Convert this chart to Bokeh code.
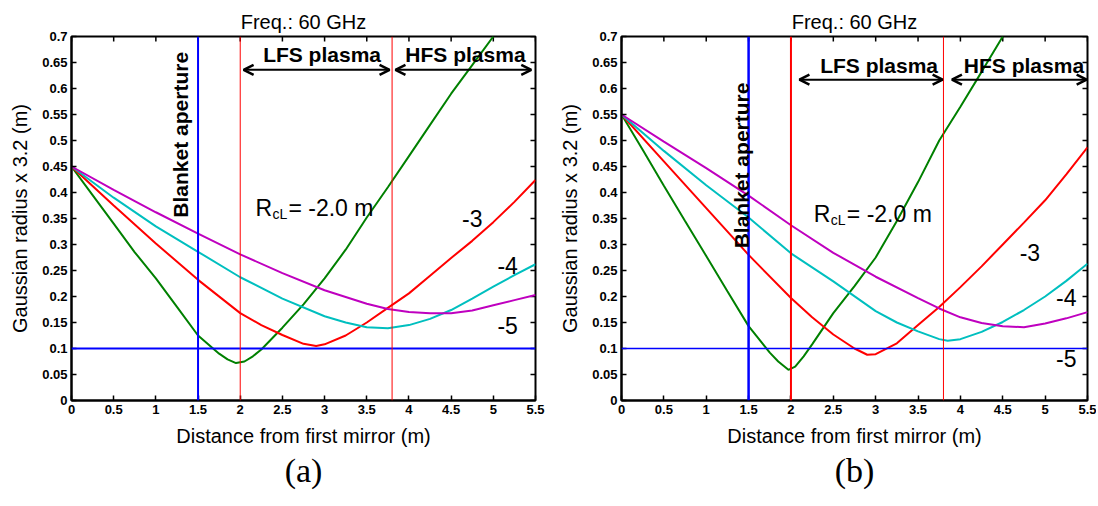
import math
from bokeh.plotting import figure
from bokeh.layouts import row
from bokeh.models import Range1d, Span, Arrow, OpenHead, Label, FixedTicker, Title
from bokeh.embed import file_html
from bokeh.resources import INLINE

# ---------------- data ----------------
x_ticks = [0, 0.5, 1, 1.5, 2, 2.5, 3, 3.5, 4, 4.5, 5, 5.5]
x_tick_labels = ["0", "0.5", "1", "1.5", "2", "2.5", "3", "3.5", "4", "4.5", "5", "5.5"]
y_ticks = [0, 0.05, 0.1, 0.15, 0.2, 0.25, 0.3, 0.35, 0.4, 0.45, 0.5, 0.55, 0.6, 0.65, 0.7]
y_tick_labels = ["0", "0.05", "0.1", "0.15", "0.2", "0.25", "0.3", "0.35", "0.4", "0.45",
                 "0.5", "0.55", "0.6", "0.65", "0.7"]

curve_labels = ["-3", "-4", "-5"]          # R_cL values written beside curves
rcl_main = "= -2.0 m"                       # green curve R_cL

# panel (a) : Gaussian radius x 3.2 (m) vs distance (m)
a_green_x = [0, 0.25, 0.5, 0.75, 1.0, 1.25, 1.5, 1.75, 1.85, 1.95, 2.05, 2.15, 2.25, 2.5,
             2.75, 3.0, 3.25, 3.5, 3.75, 4.0, 4.25, 4.5, 4.75, 5.0]
a_green_y = [0.45, 0.395, 0.34, 0.285, 0.235, 0.18, 0.125, 0.09, 0.079, 0.072, 0.075, 0.085,
             0.098, 0.14, 0.185, 0.235, 0.29, 0.352, 0.41, 0.47, 0.53, 0.59, 0.645, 0.70]
a_red_x = [0, 0.5, 1.0, 1.5, 2.0, 2.25, 2.5, 2.75, 2.9, 3.0, 3.25, 3.5, 3.75, 4.0, 4.25, 4.5,
           4.75, 5.0, 5.25, 5.5]
a_red_y = [0.45, 0.375, 0.302, 0.232, 0.168, 0.145, 0.126, 0.109, 0.105, 0.108, 0.125, 0.15,
           0.178, 0.206, 0.24, 0.274, 0.307, 0.343, 0.382, 0.424]
a_cyan_x = [0, 0.5, 1.0, 1.5, 2.0, 2.5, 3.0, 3.25, 3.5, 3.75, 4.0, 4.25, 4.5, 4.75, 5.0, 5.25, 5.5]
a_cyan_y = [0.45, 0.39, 0.335, 0.286, 0.237, 0.196, 0.162, 0.15, 0.141, 0.139, 0.145, 0.157,
            0.174, 0.196, 0.219, 0.241, 0.262]
a_mag_x = [0, 0.5, 1.0, 1.5, 2.0, 2.5, 3.0, 3.5, 3.75, 4.0, 4.25, 4.5, 4.75, 5.0, 5.25, 5.5]
a_mag_y = [0.45, 0.405, 0.362, 0.321, 0.281, 0.245, 0.212, 0.186, 0.176, 0.17, 0.168, 0.168,
           0.173, 0.183, 0.193, 0.203]

# panel (b)
b_green_x = [0, 0.25, 0.5, 0.75, 1.0, 1.25, 1.5, 1.75, 1.85, 1.97, 2.05, 2.15, 2.25, 2.5,
             2.75, 3.0, 3.25, 3.5, 3.75, 4.0, 4.25, 4.5]
b_green_y = [0.55, 0.482, 0.413, 0.345, 0.278, 0.21, 0.143, 0.092, 0.075, 0.059, 0.065, 0.085,
             0.108, 0.168, 0.22, 0.275, 0.345, 0.42, 0.5, 0.565, 0.632, 0.70]
b_red_x = [0, 0.5, 1.0, 1.5, 2.0, 2.25, 2.5, 2.75, 2.9, 3.0, 3.25, 3.5, 3.75, 4.0, 4.25, 4.5,
           4.75, 5.0, 5.25, 5.5]
b_red_y = [0.55, 0.46, 0.37, 0.28, 0.197, 0.16, 0.127, 0.1, 0.088, 0.089, 0.11, 0.145, 0.18,
           0.218, 0.258, 0.3, 0.342, 0.385, 0.435, 0.487]
b_cyan_x = [0, 0.5, 1.0, 1.5, 2.0, 2.5, 3.0, 3.25, 3.5, 3.75, 3.85, 4.0, 4.25, 4.5, 4.75, 5.0,
            5.25, 5.5]
b_cyan_y = [0.55, 0.48, 0.414, 0.352, 0.283, 0.229, 0.172, 0.15, 0.133, 0.118, 0.115, 0.118,
            0.132, 0.151, 0.174, 0.2, 0.23, 0.263]
b_mag_x = [0, 0.5, 1.0, 1.5, 2.0, 2.5, 3.0, 3.5, 3.75, 4.0, 4.25, 4.5, 4.75, 5.0, 5.25, 5.5]
b_mag_y = [0.55, 0.498, 0.447, 0.394, 0.337, 0.284, 0.238, 0.197, 0.177, 0.16, 0.149, 0.143,
           0.141, 0.148, 0.158, 0.17]

blanket_x = 1.5
lfs_x = 2.0
hfs_x = 3.8
limit_y = 0.1

GREEN = "#008000"
RED = "#FF0000"
CYAN = "#00BFBF"
MAG = "#BF00BF"
BLUE = "#0000FF"
SANS = "Liberation Sans"

X_MIN, X_MAX, Y_MIN, Y_MAX = 0, 5.5, 0, 0.7
FRAME_H = 364
TICK_PX = 5


def style_axis(ax, ticks, labels):
    ax.ticker = FixedTicker(ticks=ticks)
    ax.major_tick_in = TICK_PX
    ax.major_tick_out = 0
    ax.minor_tick_in = 0
    ax.minor_tick_out = 0
    ax.axis_line_width = 2
    ax.axis_line_color = "black"
    ax.major_tick_line_width = 1.5
    ax.major_tick_line_color = "black"
    ax.major_label_overrides = dict(zip(ticks, labels))
    ax.major_label_text_font = SANS
    ax.major_label_text_font_size = "13px"
    ax.major_label_text_font_style = "bold"
    ax.major_label_text_color = "black"
    ax.major_label_standoff = 4
    ax.axis_label_text_font = SANS
    ax.axis_label_text_font_size = "20px"
    ax.axis_label_text_font_style = "normal"
    ax.axis_label_text_color = "black"
    ax.axis_label_standoff = 8


def make_panel(curves, left_border, frame_w, right_border, tag, conf):
    width = left_border + frame_w + right_border
    p = figure(width=width, height=36 + FRAME_H + 102,
               x_range=Range1d(X_MIN, X_MAX), y_range=Range1d(Y_MIN, Y_MAX),
               output_backend="svg", toolbar_location=None,
               min_border_left=left_border, min_border_right=right_border,
               min_border_top=36, min_border_bottom=102)
    p.title.text = "Freq.: 60 GHz"
    p.title.align = "center"
    p.title.text_font = SANS
    p.title.text_font_size = "20px"
    p.title.text_font_style = "normal"
    p.title.text_color = "black"
    p.title.standoff = 8
    p.xgrid.visible = False
    p.ygrid.visible = False
    p.outline_line_color = "black"
    p.outline_line_width = 2

    style_axis(p.xaxis[0], x_ticks, x_tick_labels)
    style_axis(p.yaxis[0], y_ticks, y_tick_labels)
    p.xaxis.axis_label = "Distance from first mirror (m)"
    p.yaxis.axis_label = "Gaussian radius x 3.2 (m)"

    # inward ticks on the top and right edges of the box
    dy = TICK_PX * (Y_MAX - Y_MIN) / FRAME_H
    dx = TICK_PX * (X_MAX - X_MIN) / frame_w
    p.segment(x0=x_ticks, y0=[Y_MAX] * len(x_ticks), x1=x_ticks,
              y1=[Y_MAX - dy] * len(x_ticks), line_color="black", line_width=1.5)
    p.segment(x0=[X_MAX] * len(y_ticks), y0=y_ticks, x1=[X_MAX - dx] * len(y_ticks),
              y1=y_ticks, line_color="black", line_width=1.5)

    for (xs, ys, col) in curves:
        p.line(xs, ys, line_color=col, line_width=2)

    p.add_layout(Span(location=limit_y, dimension="width", line_color=BLUE,
                      line_width=conf["hw"]))
    p.add_layout(Span(location=blanket_x, dimension="height", line_color=BLUE,
                      line_width=conf["bw"]))
    p.add_layout(Span(location=lfs_x, dimension="height", line_color=RED,
                      line_width=conf["rw"]))
    p.add_layout(Span(location=hfs_x, dimension="height", line_color=RED, line_width=1))

    ay = conf["arrow_y"]
    for (x0, x1) in conf["arrows"]:
        p.add_layout(Arrow(start=OpenHead(size=10, line_width=2.5, line_color="black"),
                           end=OpenHead(size=10, line_width=2.5, line_color="black"),
                           x_start=x0, y_start=ay, x_end=x1, y_end=ay,
                           line_width=2, line_color="black"))
    for (txt, tx) in zip(["LFS plasma", "HFS plasma"], conf["plasma_x"]):
        p.add_layout(Label(x=tx, y=conf["plasma_y"], text=txt, text_font=SANS,
                           text_font_size="21px", text_font_style="bold", text_color="black",
                           text_align="center", text_baseline="middle"))
    bx, by = conf["blanket"]
    p.add_layout(Label(x=bx, y=by, text="Blanket aperture", text_font=SANS,
                       text_font_size="21px", text_font_style="bold", text_color="black",
                       angle=math.pi / 2, text_align="center", text_baseline="middle"))
    rx, ry = conf["rcl"]
    p.add_layout(Label(x=rx, y=ry, text="R", text_font=SANS, text_font_size="23px",
                       text_color="black", text_align="left", text_baseline="alphabetic"))
    p.add_layout(Label(x=rx, y=ry, x_offset=17, y_offset=-6, text="cL", text_font=SANS,
                       text_font_size="14px", text_color="black", text_align="left",
                       text_baseline="alphabetic"))
    p.add_layout(Label(x=rx, y=ry, x_offset=33, text=rcl_main, text_font=SANS,
                       text_font_size="23px", text_color="black", text_align="left",
                       text_baseline="alphabetic"))
    for (txt, (lx, ly)) in zip(curve_labels, conf["curve_lab"]):
        p.add_layout(Label(x=lx, y=ly, text=txt, text_font=SANS, text_font_size="23px",
                           text_color="black", text_align="center", text_baseline="middle"))

    # sub-figure tag under the axis title
    p.add_layout(Title(text=tag, align="center", text_font="Liberation Serif",
                       text_font_size="34px", text_font_style="normal",
                       text_color="black", standoff=0), "below")
    return p


conf_a = dict(hw=2, bw=2, rw=1, arrow_y=0.636, arrows=[(2.04, 3.77), (3.84, 5.45)],
              plasma_x=[2.97, 4.67], plasma_y=0.665, blanket=(1.29, 0.511),
              rcl=(2.18, 0.371), curve_lab=[(4.75, 0.35), (5.17, 0.26), (5.17, 0.144)])
conf_b = dict(hw=1.5, bw=2.5, rw=2, arrow_y=0.617, arrows=[(2.1, 3.79), (3.9, 5.49)],
              plasma_x=[3.04, 4.75], plasma_y=0.645, blanket=(1.42, 0.452),
              rcl=(2.27, 0.358), curve_lab=[(4.82, 0.285), (5.25, 0.198), (5.25, 0.081)])

pa = make_panel([(a_green_x, a_green_y, GREEN), (a_red_x, a_red_y, RED),
                 (a_cyan_x, a_cyan_y, CYAN), (a_mag_x, a_mag_y, MAG)],
                71, 464, 21, "(a)", conf_a)
pb = make_panel([(b_green_x, b_green_y, GREEN), (b_red_x, b_red_y, RED),
                 (b_cyan_x, b_cyan_y, CYAN), (b_mag_x, b_mag_y, MAG)],
                63, 468, 9, "(b)", conf_b)

layout = row(pa, pb)
open("out.html", "w").write(file_html(layout, INLINE))
